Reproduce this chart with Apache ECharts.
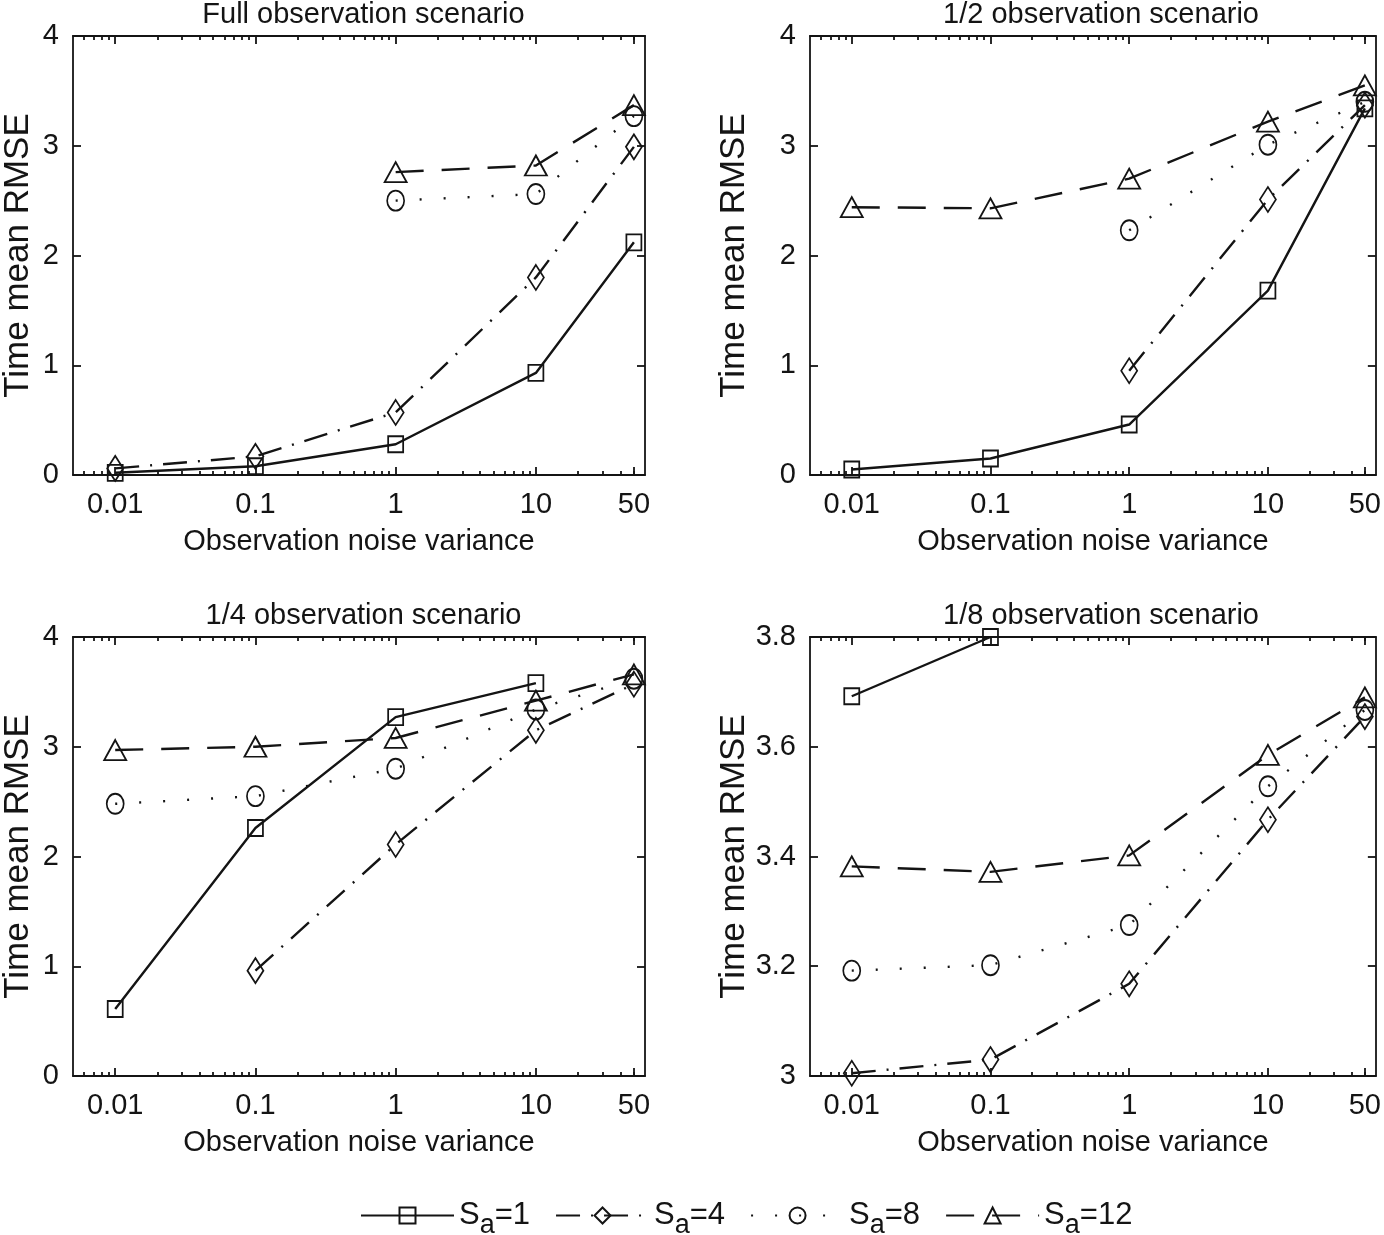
<!DOCTYPE html>
<html style="height: 100%">
<head>
	<meta charset="utf-8">
</head>
<body style="height: 100%; margin: 0; background: #fff">
<div id="container" style="width: 1384px; height: 1235px"></div>
<script type="text/javascript" src="https://cdn.jsdelivr.net/npm/echarts@6/dist/echarts.min.js"></script>
<script type="text/javascript">
    // x positions (observation noise variance) and their tick labels
    var noiseLevels = [0.01, 0.1, 1, 10, 50];
    var noiseLabels = ['0.01', '0.1', '1', '10', '50'];
    var seriesNames = ['Sa=1', 'Sa=4', 'Sa=8', 'Sa=12'];
    var panelTitles = ['Full observation scenario', '1/2 observation scenario',
                       '1/4 observation scenario', '1/8 observation scenario'];

    // time mean RMSE, one array per Sa, null = not plotted
    var fullSa1  = [0.02, 0.08, 0.28, 0.93, 2.12];
    var fullSa4  = [0.06, 0.17, 0.57, 1.80, 2.99];
    var fullSa8  = [null, null, 2.50, 2.56, 3.27];
    var fullSa12 = [null, null, 2.76, 2.82, 3.37];

    var halfSa1  = [0.05, 0.15, 0.46, 1.68, 3.34];
    var halfSa4  = [null, null, 0.95, 2.51, 3.37];
    var halfSa8  = [null, null, 2.23, 3.01, 3.40];
    var halfSa12 = [2.44, 2.43, 2.70, 3.22, 3.55];

    var quarterSa1  = [0.61, 2.26, 3.27, 3.58, null];
    var quarterSa4  = [null, 0.96, 2.11, 3.15, 3.57];
    var quarterSa8  = [2.48, 2.55, 2.80, 3.34, 3.62];
    var quarterSa12 = [2.97, 3.00, 3.08, 3.42, 3.66];

    var eighthSa1  = [3.692, 3.80, null, null, null];
    var eighthSa4  = [3.005, 3.03, 3.168, 3.467, 3.655];
    var eighthSa8  = [3.192, 3.202, 3.275, 3.528, 3.667];
    var eighthSa12 = [3.382, 3.372, 3.402, 3.585, 3.69];

    var panelData = [
        [fullSa1, fullSa4, fullSa8, fullSa12],
        [halfSa1, halfSa4, halfSa8, halfSa12],
        [quarterSa1, quarterSa4, quarterSa8, quarterSa12],
        [eighthSa1, eighthSa4, eighthSa8, eighthSa12]
    ];
    var yRanges = [[0, 4, 1], [0, 4, 1], [0, 4, 1], [3, 3.8, 0.2]];

    var ink = '#141414';
    var font = 'Liberation Sans';

    var symbols = ['rect', 'diamond', 'circle', 'triangle'];
    var symbolSizes = [[15, 16], [16, 25], [17, 20], [22, 20]];
    var dashes = ['solid', [24, 11, 2, 11], [2, 22], [28, 18]];

    var grids = [
        {left: 72, top: 36, width: 573, height: 439},
        {left: 810, top: 36, width: 572, height: 439},
        {left: 72, top: 637, width: 573, height: 439},
        {left: 810, top: 637, width: 572, height: 439}
    ];

    var xMin = Math.log10(0.005), xMax = Math.log10(60);
    var majorTicks = noiseLevels.map(function (v) { return Math.log10(v); });
    var minorTicks = [];
    [0.001, 0.01, 0.1, 1, 10].forEach(function (d) {
        for (var m = 2; m <= 9; m++) {
            var v = Math.log10(m * d);
            if (v > xMin && v < xMax) minorTicks.push(v);
        }
    });

    function xLabel(v) {
        for (var k = 0; k < majorTicks.length; k++) {
            if (Math.abs(majorTicks[k] - v) < 1e-6) return noiseLabels[k];
        }
        return '';
    }

    var xAxes = [], yAxes = [], series = [], titles = [];
    grids.forEach(function (g, i) {
        var base = xAxes.length;
        var lineStyle = {color: ink, width: 1.8};
        xAxes.push({
            gridIndex: i, type: 'value', position: 'bottom', min: xMin, max: xMax,
            axisLine: {show: true, onZero: false, lineStyle: lineStyle},
            axisTick: {show: true, inside: true, length: 8, customValues: majorTicks, lineStyle: lineStyle},
            axisLabel: {show: true, customValues: majorTicks, formatter: xLabel, margin: 15,
                        color: ink, fontSize: 29, fontFamily: font},
            splitLine: {show: false},
            name: 'Observation noise variance', nameLocation: 'middle', nameGap: 52,
            nameTextStyle: {color: ink, fontSize: 29, fontFamily: font}
        });
        xAxes.push({
            gridIndex: i, type: 'value', position: 'top', min: xMin, max: xMax,
            axisLine: {show: true, onZero: false, lineStyle: lineStyle},
            axisTick: {show: true, inside: true, length: 8, customValues: majorTicks, lineStyle: lineStyle},
            axisLabel: {show: false}, splitLine: {show: false}
        });
        ['bottom', 'top'].forEach(function (pos) {
            xAxes.push({
                gridIndex: i, type: 'value', position: pos, min: xMin, max: xMax,
                axisLine: {show: false, onZero: false},
                axisTick: {show: true, inside: true, length: 4, customValues: minorTicks, lineStyle: lineStyle},
                axisLabel: {show: false}, splitLine: {show: false}
            });
        });

        var yr = yRanges[i];
        var yBase = yAxes.length;
        yAxes.push({
            gridIndex: i, type: 'value', position: 'left', min: yr[0], max: yr[1], interval: yr[2],
            axisLine: {show: true, onZero: false, lineStyle: lineStyle},
            axisTick: {show: true, inside: true, length: 8, lineStyle: lineStyle},
            axisLabel: {margin: 14, color: ink, fontSize: 29, fontFamily: font,
                        formatter: function (v) { return String(+v.toFixed(1)); }},
            splitLine: {show: false},
            name: 'Time mean RMSE', nameLocation: 'middle', nameRotate: 90,
            nameGap: i % 2 === 0 ? 37 : 58,
            nameTextStyle: {color: ink, fontSize: 35, fontFamily: font}
        });
        yAxes.push({
            gridIndex: i, type: 'value', position: 'right', min: yr[0], max: yr[1], interval: yr[2],
            axisLine: {show: true, onZero: false, lineStyle: lineStyle},
            axisTick: {show: true, inside: true, length: 8, lineStyle: lineStyle},
            axisLabel: {show: false}, splitLine: {show: false}
        });

        titles.push({
            text: panelTitles[i], left: g.left + g.width / 2, top: g.top - 41, textAlign: 'center',
            textStyle: {color: ink, fontSize: 29, fontWeight: 'normal', fontFamily: font}
        });

        panelData[i].forEach(function (vals, s) {
            var pts = [];
            vals.forEach(function (y, k) {
                if (y !== null) pts.push([Math.log10(noiseLevels[k]), y]);
            });
            series.push({
                type: 'line', name: seriesNames[s], data: pts,
                xAxisIndex: base, yAxisIndex: yBase,
                symbol: symbols[s], symbolSize: symbolSizes[s],
                showAllSymbol: true, clip: false, animation: false,
                lineStyle: {color: ink, width: 2.4, type: dashes[s]},
                itemStyle: {color: 'rgba(255,255,255,0)', borderColor: ink, borderWidth: 1.8}
            });
        });
    });

    var dom = document.getElementById('container');
    var myChart = echarts.init(dom, null, {renderer: 'canvas'});
    var option = {
        backgroundColor: '#fff',
        animation: false,
        title: titles,
        grid: grids,
        xAxis: xAxes,
        yAxis: yAxes,
        legend: {
            data: seriesNames, left: 355, top: 1195, itemWidth: 93, itemHeight: 20, itemGap: 25,
            formatter: function (name) {
                return '{t|S}{sub|a}{t|=' + name.split('=')[1] + '}';
            },
            textStyle: {
                color: ink, fontFamily: font, fontSize: 31,
                rich: {
                    t: {fontSize: 31, fontFamily: font, color: ink},
                    sub: {fontSize: 27, fontFamily: font, color: ink, padding: [20, 0, 0, 0]}
                }
            }
        },
        series: series
    };
    myChart.setOption(option);
</script>
</body>
</html>
